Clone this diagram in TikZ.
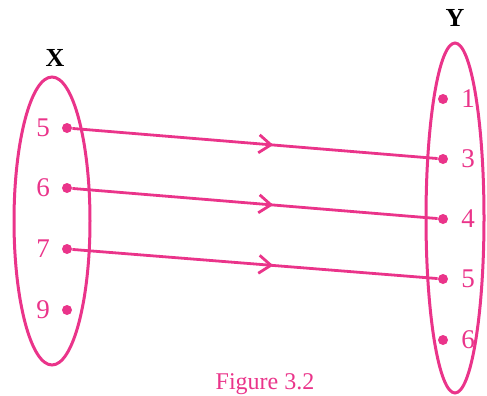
\documentclass[tikz,border=0pt]{standalone}
\usepackage{fontspec}
\setmainfont{Liberation Serif}
\usetikzlibrary{shapes.geometric,arrows.meta,decorations.markings}
\definecolor{setpink}{RGB}{234,52,138}

\begin{document}
\begin{tikzpicture}[
    x=0.5pt, y=-0.5pt,
    every node/.style={font=\fontsize{13.5}{15}\selectfont},
    set/.style={draw=setpink, line width=1.5pt, ellipse, inner sep=0pt},
    elem/.style={circle, fill=setpink, inner sep=0pt, minimum size=5pt},
    num/.style={text=setpink},
    maps/.style={setpink, line width=1.4pt, postaction={decorate},
        decoration={markings, mark=at position 0.55 with {\arrow{Straight Barb[length=6pt,width=9pt,line width=1.4pt]}}}}
]
    \path[use as bounding box] (0,0) rectangle (487,396);

    % Set X
    \node[set, minimum width=38pt, minimum height=144pt] (setX) at (52,221) {};
    \node[font=\fontsize{13}{15}\selectfont\bfseries] (labX) at (55,58) {X};
    \node[elem] (x5) at (67,128) {};
    \node[elem] (x6) at (67,188) {};
    \node[elem] (x7) at (67,249) {};
    \node[elem] (x9) at (67,310) {};
    \node[num] (n5) at (43,128) {5};
    \node[num] (n6) at (43,188) {6};
    \node[num] (n7) at (43,249) {7};
    \node[num] (n9) at (43,310) {9};

    % Set Y
    \node[set, minimum width=29pt, minimum height=175pt] (setY) at (455,218) {};
    \node[font=\fontsize{13}{15}\selectfont\bfseries] (labY) at (455,18) {Y};
    \node[elem] (y1) at (443,99) {};
    \node[elem] (y3) at (443,159) {};
    \node[elem] (y4) at (443,219) {};
    \node[elem] (y5) at (443,279) {};
    \node[elem] (y6) at (443,340) {};
    \node[num] (m1) at (468,99) {1};
    \node[num] (m3) at (468,159) {3};
    \node[num] (m4) at (468,219) {4};
    \node[num] (m5) at (468,279) {5};
    \node[num] (m6) at (468,340) {6};

    % Mapping
    \draw[maps] (x5) -- (y3);
    \draw[maps] (x6) -- (y4);
    \draw[maps] (x7) -- (y5);

    % Caption
    \node[num, font=\fontsize{12}{14}\selectfont] (caption) at (265,384) {Figure 3.2};
\end{tikzpicture}
\end{document}
